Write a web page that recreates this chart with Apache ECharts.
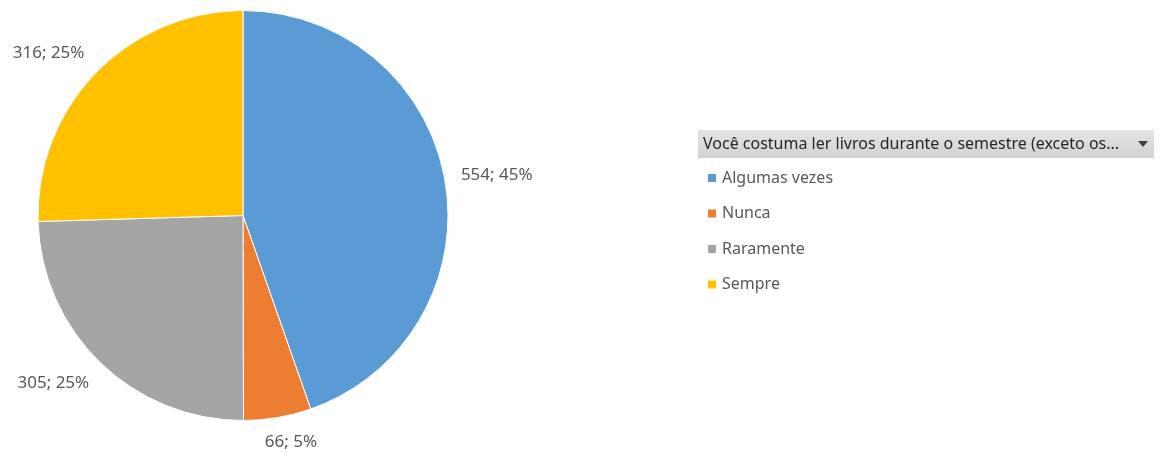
<!DOCTYPE html>
<html>
<head>
<meta charset="utf-8">
<script src="https://cdn.jsdelivr.net/npm/echarts@6/dist/echarts.min.js"></script>
<style>
html,body{margin:0;padding:0;background:#fff;}
#chart{width:1160px;height:453px;}
</style>
</head>
<body>
<div id="chart"></div>
<script>
const categories = ['Algumas vezes', 'Nunca', 'Raramente', 'Sempre'];
const values = [554, 66, 305, 316];
const colors = ['#5b9bd5', '#ed7d31', '#a5a5a5', '#ffc000'];
const legendTitle = 'Você costuma ler livros durante o semestre (exceto os...';

const CX = 243, CY = 215.5, R = 205;
const total = values.reduce((a, b) => a + b, 0);
const midAngles = [];
let acc = 0;
values.forEach(v => { midAngles.push((acc + v / 2) / total * 2 * Math.PI); acc += v; });

const chart = echarts.init(document.getElementById('chart'));
chart.setOption({
  animation: false,
  backgroundColor: '#ffffff',
  legend: {
    orient: 'vertical',
    left: 706,
    top: 168,
    padding: 0,
    itemGap: 15.5,
    itemWidth: 10,
    itemHeight: 10,
    icon: 'rect',
    textStyle: { fontFamily: 'Noto Sans', fontSize: 16, color: '#595959', lineHeight: 20, padding: [0, 0, 0, 0] },
    data: categories
  },
  graphic: [
    {
      type: 'group', left: 698, top: 130,
      children: [
        { type: 'rect', shape: { x: 0, y: 0, width: 456, height: 28 },
          style: { fill: new echarts.graphic.LinearGradient(0, 0, 0, 1, [{offset: 0, color: '#e4e4e4'}, {offset: 1, color: '#d2d2d2'}]) } },
        { type: 'text', x: 5, y: 14, style: { text: legendTitle, fontFamily: 'Noto Sans', fontSize: 16, fill: '#262626', verticalAlign: 'middle' } },
        { type: 'polygon', shape: { points: [[440, 11], [450, 11], [445, 17]] }, style: { fill: '#404040' } }
      ]
    }
  ],
  series: [{
    type: 'pie',
    center: [CX, CY],
    radius: R,
    startAngle: 90,
    clockwise: true,
    avoidLabelOverlap: false,
    percentPrecision: 0,
    itemStyle: { borderColor: '#ffffff', borderWidth: 1 },
    label: {
      show: true,
      position: 'outside',
      formatter: '{c}; {d}%',
      fontFamily: 'Noto Sans',
      fontSize: 17,
      color: '#595959'
    },
    labelLine: { show: false },
    labelLayout: function (p) {
      const a = midAngles[p.dataIndex];
      const ux = Math.sin(a), uy = -Math.cos(a);
      const d = R + 16;
      const w = p.labelRect.width / 2, h = p.labelRect.height / 2;
      const k = 2.4;
      const sx = Math.sign(ux) * Math.min(1, Math.abs(ux) * k);
      const sy = Math.sign(uy) * Math.min(1, Math.abs(uy) * k);
      return {
        x: CX + ux * d + w * sx,
        y: CY + uy * d + h * sy,
        align: 'center',
        verticalAlign: 'middle'
      };
    },
    emphasis: { disabled: true },
    data: categories.map((c, i) => ({ name: c, value: values[i], itemStyle: { color: colors[i] } }))
  }]
});
</script>
</body>
</html>
